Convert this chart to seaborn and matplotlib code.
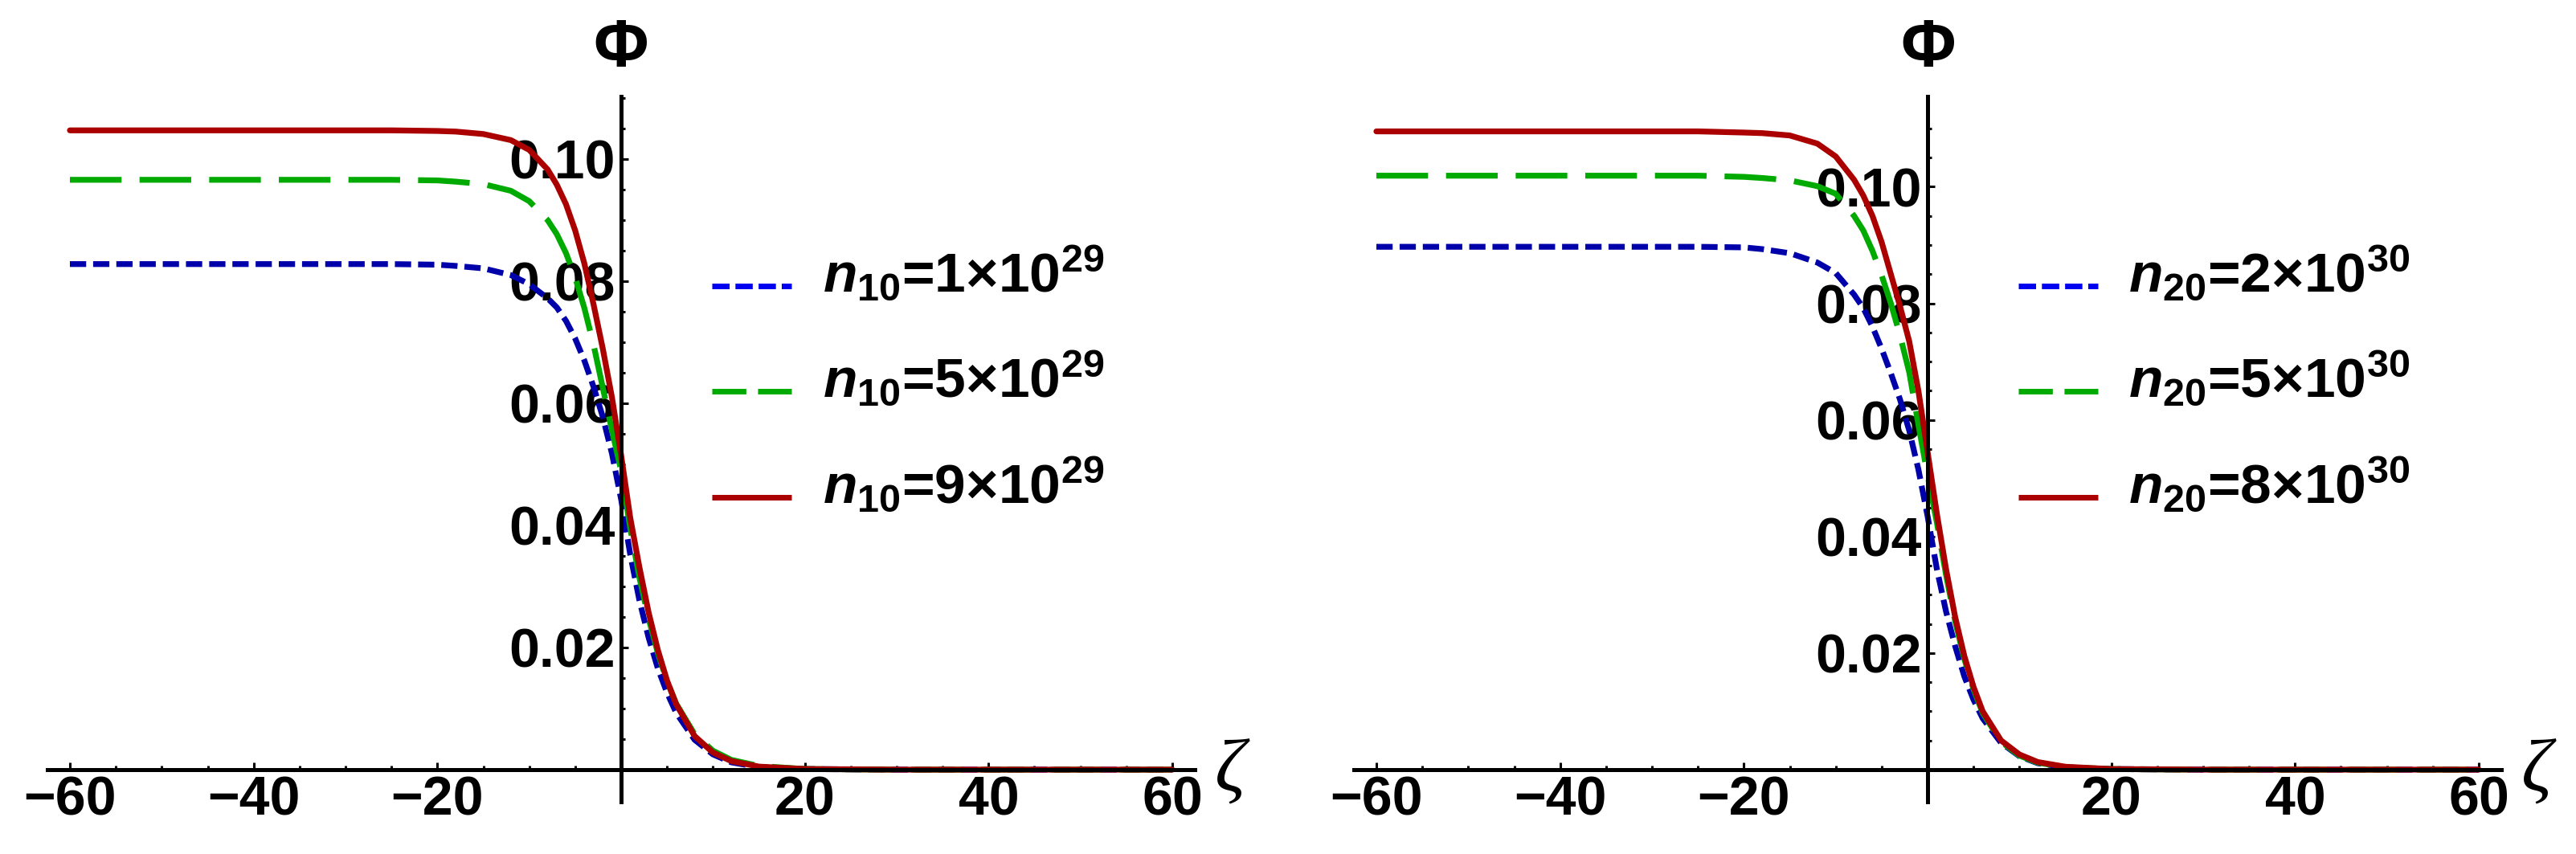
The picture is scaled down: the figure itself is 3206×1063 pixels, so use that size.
import matplotlib
matplotlib.use("Agg")
import matplotlib.pyplot as plt
import seaborn as sns
from matplotlib.lines import Line2D
from matplotlib.ticker import FixedLocator, FixedFormatter

# ---------------- data ----------------
zeta = [-60, -30, -25, -20, -18, -15, -12, -10, -8, -7, -6, -5, -4, -3, -2, -1,
        0, 1, 2, 3, 4, 5, 6, 8, 10, 12, 15, 20, 30, 60]

# left panel: n10 = 1e29, 5e29, 9e29
phi_n10_1 = [.0828, .0828, .0828, .0827, .0825, .0821, .0810, .0795, .0772, .0757, .0735, .0706,
             .0670, .0627, .0578, .0518, .0443, .0352, .0277, .0216, .0166, .0126,
             .0093, .0049, .0025, .0012, .0004, .0001, 0.0, 0.0]
phi_n10_5 = [.0966, .0966, .0966, .0965, .0963, .0959, .0948, .0931, .0900, .0877, .0846, .0806,
             .0756, .0696, .0626, .0556, .0490, .0395, .0314, .0247, .0191, .0145,
             .0108, .0058, .0031, .0016, .0006, .0001, 0.0, 0.0]
phi_n10_9 = [.1047, .1047, .1047, .1046, .1045, .1041, .1031, .1015, .0983, .0958, .0926, .0883,
             .0829, .0762, .0690, .0610, .0515, .0412, .0331, .0257, .0196, .0146,
             .0107, .0055, .0028, .0014, .0005, .0001, 0.0, 0.0]

# right panel: n20 = 2e30, 5e30, 8e30
phi_n20_2 = [.0897, .0897, .0897, .0896, .0893, .0886, .0870, .0852, .0815, .0792, .0760, .0722,
             .0680, .0635, .0582, .0515, .0435, .0345, .0272, .0212, .0160, .0120,
             .0088, .0046, .0023, .0011, .0004, .0001, 0.0, 0.0]
phi_n20_5 = [.1019, .1019, .1019, .1017, .1015, .1011, .1001, .0988, .0950, .0925, .0890, .0848,
             .0800, .0745, .0682, .0592, .0505, .0425, .0335, .0255, .0190, .0138,
             .0097, .0048, .0024, .0012, .0004, .0001, 0.0, 0.0]
phi_n20_8 = [.1095, .1095, .1095, .1093, .1092, .1088, .1074, .1052, .1012, .0985, .0950, .0905,
             .0850, .0795, .0735, .0650, .0545, .0440, .0345, .0262, .0195, .0142,
             .0100, .0050, .0026, .0013, .0005, .0001, 0.0, 0.0]

labels_left = [r"$n_{10}\text{=1×}10^{29}$", r"$n_{10}\text{=5×}10^{29}$", r"$n_{10}\text{=9×}10^{29}$"]
labels_right = [r"$n_{20}\text{=2×}10^{30}$", r"$n_{20}\text{=5×}10^{30}$", r"$n_{20}\text{=8×}10^{30}$"]

xtick_vals = [-60, -40, -20, 20, 40, 60]
xtick_labels = ["\u221260", "\u221240", "\u221220", "20", "40", "60"]
ytick_vals = [0.02, 0.04, 0.06, 0.08, 0.10]
ytick_labels = ["0.02", "0.04", "0.06", "0.08", "0.10"]

# ---------------- style ----------------
sns.set_style("white")
plt.rcParams["font.family"] = ["Liberation Sans", "DejaVu Sans"]
plt.rcParams["font.weight"] = "bold"
plt.rcParams["text.color"] = "black"
plt.rcParams["axes.labelcolor"] = "black"
plt.rcParams["xtick.color"] = "black"
plt.rcParams["ytick.color"] = "black"
plt.rcParams["xtick.bottom"] = True
plt.rcParams["ytick.left"] = True
plt.rcParams["mathtext.fontset"] = "custom"
plt.rcParams["mathtext.rm"] = "Liberation Sans:bold"
plt.rcParams["mathtext.bf"] = "Liberation Sans:bold"
plt.rcParams["mathtext.it"] = "Liberation Sans:bold:italic"

W, H = 3206, 1063
fig = plt.figure(figsize=(W / 100, H / 100), dpi=100)

BLUE, GREEN, RED = "#0000AA", "#00AA00", "#AA0000"
BLUE_LEG = "#0000F0"
LW = 5.2
blue_ls = (0, (2.8, 1.2))
green_ls = (0, (8.9, 3.1))

def fx(px):
    return px / W

def fy(py):
    return 1 - py / H

def panel(left_px, right_px, ylo, yhi, series, labels, leg_x0, leg_x1, txt_x, axis_x_px):
    ax = fig.add_axes([fx(left_px), fy(998), fx(right_px - left_px), (998 - 120) / H])
    ax.set_facecolor("none")
    cols = [BLUE, GREEN, RED]
    styles = [blue_ls, green_ls, "-"]
    for vals, c, ls in zip(series, cols, styles):
        sns.lineplot(x=zeta, y=vals, ax=ax, color=c, linewidth=LW, linestyle=ls,
                     legend=False, sort=False)
    ax.set_xlim(-62.45, 62.45)
    ax.set_ylim(ylo, yhi)
    for s in ["top", "right"]:
        ax.spines[s].set_visible(False)
    ax.spines["left"].set_position(("data", 0))
    ax.spines["bottom"].set_position(("data", 0))
    for s in ["left", "bottom"]:
        ax.spines[s].set_linewidth(3.6)
        ax.spines[s].set_color("black")
    ax.xaxis.set_major_locator(FixedLocator(xtick_vals))
    ax.xaxis.set_major_formatter(FixedFormatter(xtick_labels))
    ax.xaxis.set_minor_locator(FixedLocator([v for v in range(-60, 61, 5) if v % 20 != 0]))
    ax.yaxis.set_major_locator(FixedLocator(ytick_vals))
    ax.yaxis.set_major_formatter(FixedFormatter(ytick_labels))
    ax.yaxis.set_minor_locator(FixedLocator([0.005 * k for k in range(1, 23) if k % 4 != 0]))
    ax.tick_params(which="both", direction="in", width=2.2, color="black",
                   labelcolor="black", labelsize=49, pad=5,
                   bottom=True, left=True, top=False, right=False)
    ax.tick_params(which="major", length=6.5)
    ax.tick_params(which="minor", length=3.6)
    for t in ax.get_xticklabels() + ax.get_yticklabels():
        t.set_fontweight("bold")
    ax.set_xlabel("")
    ax.set_ylabel("")
    # axis labels
    fig.text(fx(axis_x_px), fy(61), "\u03a6", ha="center", va="center",
             fontsize=60, fontweight="bold", color="black")
    fig.text(fx(right_px + 44), fy(962), "\u03b6", ha="center", va="center",
             fontsize=68, family=["Liberation Serif", "DejaVu Serif"], style="italic",
             fontweight="normal", color="black")
    # legend
    leg_cols = [BLUE_LEG, GREEN, RED]
    leg_ls = [(0, (3.1, 1.05)), (0, (6.1, 2.1)), "-"]
    rows = [356, 487, 619]
    for r, c, ls, lab in zip(rows, leg_cols, leg_ls, labels):
        fig.add_artist(Line2D([fx(leg_x0), fx(leg_x1)], [fy(r), fy(r)],
                              transform=fig.transFigure, color=c, lw=5.0,
                              linestyle=ls, solid_capstyle="butt"))
        fig.text(fx(txt_x), fy(r + 7), lab, ha="left", va="baseline", fontsize=50,
                 color="black")
    return ax

panel(59, 1487, -0.005263, 0.11026,
      [phi_n10_1, phi_n10_5, phi_n10_9], labels_left, 886, 985, 1024, 773)
panel(1685, 3113, -0.005513, 0.11550,
      [phi_n20_2, phi_n20_5, phi_n20_8], labels_right, 2512, 2611, 2649, 2400)

fig.savefig("out.png", dpi=100)
